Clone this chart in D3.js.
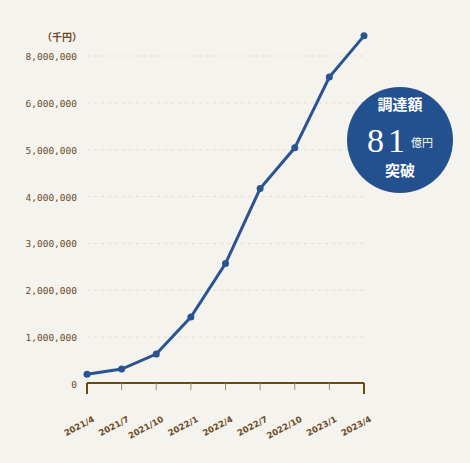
<!DOCTYPE html>
<html><head><meta charset="utf-8">
<script src="https://cdn.jsdelivr.net/npm/d3@7"></script>
<style>body{margin:0;background:#f5f3ee}</style>
</head><body>
<script>
// data
const months = ["2021/4","2021/7","2021/10","2022/1","2022/4","2022/7","2022/10","2023/1","2023/4"];
const amounts = [210000, 320000, 640000, 1430000, 2570000, 4170000, 5040000, 6550000, 7430000];
const yTicks = [0, 1000000, 2000000, 3000000, 4000000, 5000000, 6000000, 7000000];
const yLabels = ["0","1,000,000","2,000,000","3,000,000","4,000,000","5,000,000","6,000,000","8,000,000"];

const W = 470, H = 463;
const svg = d3.select("body").append("svg").attr("width", W).attr("height", H);
svg.append("rect").attr("width", W).attr("height", H).attr("fill", "#f5f3ee");

const x = d3.scalePoint().domain(months).range([87, 364]);
const y = d3.scaleLinear().domain([0, 7000000]).range([384, 56]);
const brown = "#6b4a1f";

// grid
svg.selectAll(".grid").data(yTicks.slice(1)).enter().append("line")
  .attr("x1", 87).attr("x2", 364).attr("y1", d => y(d)).attr("y2", d => y(d))
  .attr("stroke", "#e2ddd2").attr("stroke-dasharray", "3,4");

// y labels
svg.selectAll(".yl").data(yTicks).enter().append("text")
  .attr("x", 77).attr("y", d => y(d) + 4).attr("text-anchor", "end")
  .attr("font-family", "DejaVu Sans Mono, monospace").attr("font-size", 9.5)
  .attr("fill", brown).text((d, i) => yLabels[i]);
svg.append("text").attr("x", 62).attr("y", 41).attr("text-anchor", "middle")
  .attr("font-family", "Noto Sans CJK JP").attr("font-size", 10).attr("font-weight", "bold")
  .attr("fill", brown).text("（千円）");

// x axis
svg.append("line").attr("x1", 87).attr("x2", 364).attr("y1", 383).attr("y2", 383)
  .attr("stroke", "#6b4a12").attr("stroke-width", 2);
svg.selectAll(".tk").data(months).enter().append("line")
  .attr("x1", d => x(d)).attr("x2", d => x(d)).attr("y1", 383)
  .attr("y2", (d, i) => (i === 0 || i === months.length - 1) ? 394 : 390)
  .attr("stroke", (d, i) => (i === 0 || i === months.length - 1) ? "#6b4a12" : "#a08a65")
  .attr("stroke-width", (d, i) => (i === 0 || i === months.length - 1) ? 2 : 1);
svg.selectAll(".xl").data(months).enter().append("text")
  .attr("transform", d => `translate(${x(d) + 8},${421}) rotate(-28)`)
  .attr("text-anchor", "end").attr("font-family", "DejaVu Sans, sans-serif")
  .attr("font-size", 8.5).attr("font-weight", "bold").attr("fill", brown).text(d => d);

// line
const line = d3.line().x((d, i) => x(months[i])).y(d => y(d));
svg.append("path").datum(amounts).attr("d", line).attr("fill", "none")
  .attr("stroke", "#2a5393").attr("stroke-width", 3);
svg.selectAll(".pt").data(amounts).enter().append("circle")
  .attr("cx", (d, i) => x(months[i])).attr("cy", d => y(d)).attr("r", 3.5).attr("fill", "#2a5393");

// badge
const g = svg.append("g").attr("transform", "translate(400,140)");
g.append("circle").attr("r", 53).attr("fill", "#23508f");
g.append("text").attr("y", -30).attr("text-anchor", "middle").attr("fill", "#fff")
  .attr("font-family", "Noto Sans CJK JP").attr("font-size", 15).attr("font-weight", "bold").text("調達額");
g.append("text").attr("x", -12).attr("y", 12).attr("text-anchor", "middle").attr("fill", "#fff")
  .attr("font-family", "Liberation Serif, serif").attr("font-size", 34).attr("letter-spacing", 4).text("81");
g.append("text").attr("x", 22).attr("y", 7).attr("text-anchor", "middle").attr("fill", "#fff")
  .attr("font-family", "Noto Sans CJK JP").attr("font-size", 11).text("億円");
g.append("text").attr("y", 36).attr("text-anchor", "middle").attr("fill", "#fff")
  .attr("font-family", "Noto Sans CJK JP").attr("font-size", 15).attr("font-weight", "bold").text("突破");
</script>
</body></html>
